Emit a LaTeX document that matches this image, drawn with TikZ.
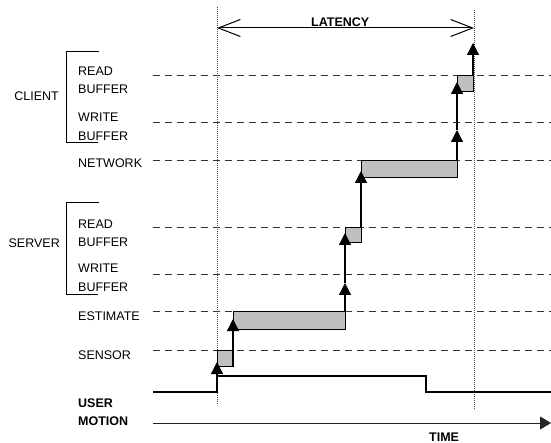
\documentclass[tikz,border=0pt]{standalone}
\usepackage{fontspec}
\setmainfont{Liberation Sans}
\usetikzlibrary{arrows.meta}

\begin{document}
\begin{tikzpicture}[x=1pt,y=-1pt,
		every node/.style={inner sep=0pt,anchor=base west,font=\fontsize{12.5}{14}\selectfont},
		level/.style={dash pattern=on 7pt off 5pt,line width=0.8pt,draw=black!80},
		marker/.style={dash pattern=on 0.8pt off 1.2pt,line width=0.6pt,draw=black!70},
		stage/.style={draw,fill=black!25,line width=0.9pt},
		flow/.style={line width=1.3pt,-{Triangle[length=12pt,width=12pt]}},
		bracket/.style={line width=1pt}]
		\useasboundingbox (0,0) rectangle (551,443);
		
		% levels
		\foreach \y in {75,122.5,160,227,274,311,350}
		\draw[level] (153,\y) -- (551,\y);
		
		% labels
		\node (client) [anchor=base east] at (59,101) {CLIENT};
		\node (crd1) at (78,76) {READ};
		\node (crd2) at (78,94) {BUFFER};
		\node (cwr1) at (78,122) {WRITE};
		\node (cwr2) at (78,141) {BUFFER};
		\node (net) at (78,168) {NETWORK};
		\node (server) [anchor=base east] at (60,248) {SERVER};
		\node (srd1) at (78,229) {READ};
		\node (srd2) at (78,247) {BUFFER};
		\node (swr1) at (78,273) {WRITE};
		\node (swr2) at (78,292) {BUFFER};
		\node (est) at (78,320) {ESTIMATE};
		\node (sens) at (78,359) {SENSOR};
		\node (user) [font=\fontsize{12.5}{14}\selectfont\bfseries] at (78,407) {USER};
		\node (motion) [font=\fontsize{12.5}{14}\selectfont\bfseries] at (78,425) {MOTION};
		\node (time) [font=\fontsize{12.5}{14}\selectfont\bfseries] at (429,441) {TIME};
		\node (lat) [font=\fontsize{12.5}{14}\selectfont\bfseries] at (311,27) {LATENCY};
		
		\draw[bracket] (99,52) -- (66,52) -- (66,143) -- (98,143);
		\draw[bracket] (99,203) -- (66,203) -- (66,295) -- (98,295);
		
		% start and end of latency
		\coordinate (T0) at (217,7);
		\coordinate (T1) at (474,10);
		\draw[marker] (T0) -- (217,405);
		\draw[marker] (T1) -- (474,410);
		\draw[line width=1pt,{Straight Barb[length=22pt,width=17pt]}-{Straight Barb[length=22pt,width=17pt]}] (217,28) -- (474,28);
		
		% user motion and time
		\draw[line width=1.2pt] (153,392) -- (217,392) -- (217,376) -- (426,376) -- (426,392) -- (551,392);
		\draw[line width=1pt,draw=black!85,-{Triangle[length=11pt,width=13pt]}] (153,423) -- (551,423);
		
		% stages
		\coordinate (S1) at (217,350); \coordinate (S2) at (233,366);
		\coordinate (E1) at (233,311); \coordinate (E2) at (345,329);
		\coordinate (R1) at (345,227); \coordinate (R2) at (361,242);
		\coordinate (N1) at (361,160); \coordinate (N2) at (457,177);
		\coordinate (C1) at (457,75); \coordinate (C2) at (473,91);
		\draw[stage] (S1) rectangle (S2);
		\draw[stage] (E1) rectangle (E2);
		\draw[stage] (R1) rectangle (R2);
		\draw[stage] (N1) rectangle (N2);
		\draw[stage] (C1) rectangle (C2);
		
		\draw[flow] (217,392) -- (217,362);
		\draw[flow] (233,366) -- (233,319);
		\draw[flow] (345,311) -- (345,283);
		\draw[flow] (345,283) -- (345,233);
		\draw[flow] (361,227) -- (361,171);
		\draw[flow] (457,160) -- (457,130);
		\draw[flow] (457,130) -- (457,82);
		\draw[flow] (473,75) -- (473,43);
		\end{tikzpicture}
\end{document}
